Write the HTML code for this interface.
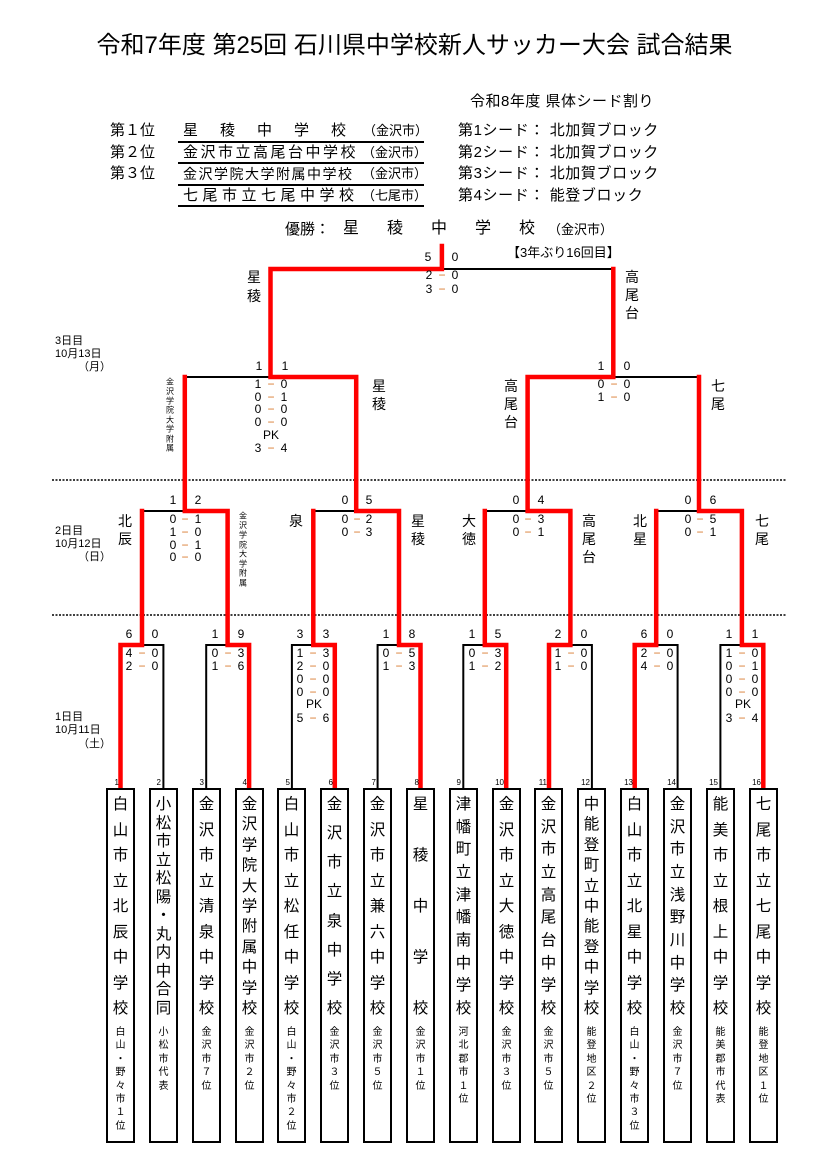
<!DOCTYPE html>
<html><head><meta charset="utf-8">
<style>
body{margin:0;background:#fff;}
#w{position:relative;width:829px;height:1170px;overflow:hidden;font-family:"Liberation Sans","Noto Sans CJK JP",sans-serif;color:#000;}
.a{position:absolute;white-space:nowrap;line-height:1;}
.box{position:absolute;top:788px;width:25px;height:351px;border:2px solid #000;background:#fff;}
.nm{position:absolute;left:0;right:0;top:6px;height:222px;display:flex;flex-direction:column;justify-content:space-between;align-items:center;font-size:15.5px;}
.nm span{display:block;height:18px;line-height:18px;text-align:center;}
.sb{position:absolute;left:0;right:0;top:236px;font-size:10px;line-height:13.4px;text-align:center;}
svg{position:absolute;left:0;top:0;}
</style></head><body><div id="w">

<div class="a" style="left:0;width:829px;text-align:center;top:34px;font-size:24px;">令和7年度 第25回 石川県中学校新人サッカー大会 試合結果</div>
<div class="a" style="left:470px;top:94px;font-size:15px;letter-spacing:0.5px;">令和8年度 県体シード割り</div>

<div class="a" style="left:110px;top:123px;font-size:15px;">第１位</div>
<div class="a" style="left:110px;top:145px;font-size:15px;">第２位</div>
<div class="a" style="left:110px;top:166px;font-size:15px;">第３位</div>
<div class="a" style="left:183px;top:123px;font-size:15px;letter-spacing:22px;">星稜中学校</div>
<div class="a" style="left:363px;top:124px;font-size:13px;">（金沢市）</div>
<div class="a" style="left:183px;top:145px;font-size:15px;letter-spacing:2.5px;">金沢市立高尾台中学校</div>
<div class="a" style="left:362px;top:146px;font-size:13px;">（金沢市）</div>
<div class="a" style="left:183px;top:167px;font-size:14px;letter-spacing:1.5px;">金沢学院大学附属中学校</div>
<div class="a" style="left:362px;top:167px;font-size:13px;">（金沢市）</div>
<div class="a" style="left:183px;top:188px;font-size:15px;letter-spacing:4.5px;">七尾市立七尾中学校</div>
<div class="a" style="left:362px;top:189px;font-size:13px;">（七尾市）</div>

<div class="a" style="left:458px;top:123px;font-size:15px;letter-spacing:0.6px;">第1シード： 北加賀ブロック</div>
<div class="a" style="left:458px;top:145px;font-size:15px;letter-spacing:0.6px;">第2シード： 北加賀ブロック</div>
<div class="a" style="left:458px;top:166px;font-size:15px;letter-spacing:0.6px;">第3シード： 北加賀ブロック</div>
<div class="a" style="left:458px;top:188px;font-size:15px;letter-spacing:0.6px;">第4シード： 能登ブロック</div>

<div class="a" style="left:285px;top:222px;font-size:15px;">優勝：</div>
<div class="a" style="left:343px;top:221px;font-size:16px;letter-spacing:28px;">星稜中学校</div>
<div class="a" style="left:548px;top:223px;font-size:13px;">（金沢市）</div>
<div class="a" style="left:507px;top:246px;font-size:13px;">【3年ぶり16回目】</div>

<svg width="829" height="1170" xmlns="http://www.w3.org/2000/svg" font-family="Liberation Sans, Noto Sans CJK JP, sans-serif">
<g stroke="#000" stroke-width="2">
<line x1="178" y1="142" x2="424" y2="142"/><line x1="178" y1="163" x2="424" y2="163"/>
<line x1="178" y1="185" x2="424" y2="185"/><line x1="178" y1="206" x2="424" y2="206"/>
</g>
<g stroke="#000" stroke-width="1.5" stroke-dasharray="2 1.5">
<line x1="52" y1="480" x2="787" y2="480"/><line x1="52" y1="615" x2="787" y2="615"/>
</g>
<g stroke="#000" stroke-width="2" fill="none">
<path d="M120.5 788V645H163.4V788"/><path d="M206.2 788V645H249.1V788"/>
<path d="M291.9 788V645H334.8V788"/><path d="M377.6 788V645H420.5V788"/>
<path d="M463.3 788V645H506.2V788"/><path d="M549 788V645H591.9V788"/>
<path d="M634.7 788V645H677.6V788"/><path d="M720.4 788V645H763.3V788"/>
<path d="M142 511H227.6"/><path d="M313.3 511H399"/><path d="M484.8 511H570.4"/><path d="M656.2 511H741.9"/>
<path d="M184.8 377H356.2"/><path d="M527.6 377H699"/>
<path d="M270.5 269H613.3"/>
</g>
<g stroke="#f00" stroke-width="4.5" fill="none" stroke-linejoin="miter" stroke-linecap="square">
<path d="M120.5 788V645H142V511"/>
<path d="M249.1 788V645H227.6V511H184.8V377"/>
<path d="M334.8 788V645H313.3V511"/>
<path d="M420.5 788V645H399V511H356.2V377H270.5V269H441.9V246"/>
<path d="M506.2 788V645H484.8V511"/>
<path d="M549 788V645H570.4V511H527.6V377H613.3V269"/>
<path d="M634.7 788V645H656.2V511"/>
<path d="M763.3 788V645H741.9V511H699V377"/>
</g>

<g font-size="12" text-anchor="middle" dominant-baseline="central">
<text y="257"><tspan x="428">5</tspan><tspan x="455">0</tspan></text>
<text y="275"><tspan x="429">2</tspan><tspan x="442" fill="#d9782a">−</tspan><tspan x="455">0</tspan></text>
<text y="289"><tspan x="429">3</tspan><tspan x="442" fill="#d9782a">−</tspan><tspan x="455">0</tspan></text>
<text y="366"><tspan x="259">1</tspan><tspan x="285">1</tspan></text>
<text y="384"><tspan x="258">1</tspan><tspan x="271" fill="#d9782a">−</tspan><tspan x="284">0</tspan></text>
<text y="397"><tspan x="258">0</tspan><tspan x="271" fill="#d9782a">−</tspan><tspan x="284">1</tspan></text>
<text y="409"><tspan x="258">0</tspan><tspan x="271" fill="#d9782a">−</tspan><tspan x="284">0</tspan></text>
<text y="422"><tspan x="258">0</tspan><tspan x="271" fill="#d9782a">−</tspan><tspan x="284">0</tspan></text>
<text y="435" x="271">PK</text>
<text y="448"><tspan x="258">3</tspan><tspan x="271" fill="#d9782a">−</tspan><tspan x="284">4</tspan></text>
<text y="366"><tspan x="601">1</tspan><tspan x="627">0</tspan></text>
<text y="384"><tspan x="601">0</tspan><tspan x="614" fill="#d9782a">−</tspan><tspan x="627">0</tspan></text>
<text y="397"><tspan x="601">1</tspan><tspan x="614" fill="#d9782a">−</tspan><tspan x="627">0</tspan></text>
<text y="500"><tspan x="173">1</tspan><tspan x="198">2</tspan></text>
<text y="519"><tspan x="173">0</tspan><tspan x="185" fill="#d9782a">−</tspan><tspan x="198">1</tspan></text>
<text y="532"><tspan x="173">1</tspan><tspan x="185" fill="#d9782a">−</tspan><tspan x="198">0</tspan></text>
<text y="545"><tspan x="173">0</tspan><tspan x="185" fill="#d9782a">−</tspan><tspan x="198">1</tspan></text>
<text y="557"><tspan x="173">0</tspan><tspan x="185" fill="#d9782a">−</tspan><tspan x="198">0</tspan></text>
<text y="500"><tspan x="345">0</tspan><tspan x="369">5</tspan></text>
<text y="519"><tspan x="345">0</tspan><tspan x="357" fill="#d9782a">−</tspan><tspan x="369">2</tspan></text>
<text y="532"><tspan x="345">0</tspan><tspan x="357" fill="#d9782a">−</tspan><tspan x="369">3</tspan></text>
<text y="500"><tspan x="516">0</tspan><tspan x="541">4</tspan></text>
<text y="519"><tspan x="516">0</tspan><tspan x="528" fill="#d9782a">−</tspan><tspan x="541">3</tspan></text>
<text y="532"><tspan x="516">0</tspan><tspan x="528" fill="#d9782a">−</tspan><tspan x="541">1</tspan></text>
<text y="500"><tspan x="688">0</tspan><tspan x="713">6</tspan></text>
<text y="519"><tspan x="688">0</tspan><tspan x="700" fill="#d9782a">−</tspan><tspan x="713">5</tspan></text>
<text y="532"><tspan x="688">0</tspan><tspan x="700" fill="#d9782a">−</tspan><tspan x="713">1</tspan></text>
<text y="634"><tspan x="129">6</tspan><tspan x="155">0</tspan></text>
<text y="653"><tspan x="129">4</tspan><tspan x="142" fill="#d9782a">−</tspan><tspan x="155">0</tspan></text>
<text y="666"><tspan x="129">2</tspan><tspan x="142" fill="#d9782a">−</tspan><tspan x="155">0</tspan></text>
<text y="634"><tspan x="215">1</tspan><tspan x="241">9</tspan></text>
<text y="653"><tspan x="215">0</tspan><tspan x="228" fill="#d9782a">−</tspan><tspan x="241">3</tspan></text>
<text y="666"><tspan x="215">1</tspan><tspan x="228" fill="#d9782a">−</tspan><tspan x="241">6</tspan></text>
<text y="634"><tspan x="300">3</tspan><tspan x="326">3</tspan></text>
<text y="653"><tspan x="300">1</tspan><tspan x="313" fill="#d9782a">−</tspan><tspan x="326">3</tspan></text>
<text y="666"><tspan x="300">2</tspan><tspan x="313" fill="#d9782a">−</tspan><tspan x="326">0</tspan></text>
<text y="679"><tspan x="300">0</tspan><tspan x="313" fill="#d9782a">−</tspan><tspan x="326">0</tspan></text>
<text y="692"><tspan x="300">0</tspan><tspan x="313" fill="#d9782a">−</tspan><tspan x="326">0</tspan></text>
<text y="704" x="314">PK</text>
<text y="718"><tspan x="300">5</tspan><tspan x="313" fill="#d9782a">−</tspan><tspan x="326">6</tspan></text>
<text y="634"><tspan x="386">1</tspan><tspan x="412">8</tspan></text>
<text y="653"><tspan x="386">0</tspan><tspan x="399" fill="#d9782a">−</tspan><tspan x="412">5</tspan></text>
<text y="666"><tspan x="386">1</tspan><tspan x="399" fill="#d9782a">−</tspan><tspan x="412">3</tspan></text>
<text y="634"><tspan x="472">1</tspan><tspan x="498">5</tspan></text>
<text y="653"><tspan x="472">0</tspan><tspan x="485" fill="#d9782a">−</tspan><tspan x="498">3</tspan></text>
<text y="666"><tspan x="472">1</tspan><tspan x="485" fill="#d9782a">−</tspan><tspan x="498">2</tspan></text>
<text y="634"><tspan x="558">2</tspan><tspan x="584">0</tspan></text>
<text y="653"><tspan x="558">1</tspan><tspan x="571" fill="#d9782a">−</tspan><tspan x="584">0</tspan></text>
<text y="666"><tspan x="558">1</tspan><tspan x="571" fill="#d9782a">−</tspan><tspan x="584">0</tspan></text>
<text y="634"><tspan x="644">6</tspan><tspan x="670">0</tspan></text>
<text y="653"><tspan x="644">2</tspan><tspan x="657" fill="#d9782a">−</tspan><tspan x="670">0</tspan></text>
<text y="666"><tspan x="644">4</tspan><tspan x="657" fill="#d9782a">−</tspan><tspan x="670">0</tspan></text>
<text y="634"><tspan x="729">1</tspan><tspan x="755">1</tspan></text>
<text y="653"><tspan x="729">1</tspan><tspan x="742" fill="#d9782a">−</tspan><tspan x="755">0</tspan></text>
<text y="666"><tspan x="729">0</tspan><tspan x="742" fill="#d9782a">−</tspan><tspan x="755">1</tspan></text>
<text y="679"><tspan x="729">0</tspan><tspan x="742" fill="#d9782a">−</tspan><tspan x="755">0</tspan></text>
<text y="692"><tspan x="729">0</tspan><tspan x="742" fill="#d9782a">−</tspan><tspan x="755">0</tspan></text>
<text y="704" x="743">PK</text>
<text y="718"><tspan x="729">3</tspan><tspan x="742" fill="#d9782a">−</tspan><tspan x="755">4</tspan></text>
</g>

<g font-size="11" dominant-baseline="central">
<text x="55" y="341">3日目</text><text x="55" y="354">10月13日</text><text x="78" y="367">（月）</text>
<text x="55" y="531">2日目</text><text x="55" y="544">10月12日</text><text x="78" y="557">（日）</text>
<text x="55" y="717">1日目</text><text x="55" y="730">10月11日</text><text x="78" y="744">（土）</text>
</g>

<g font-size="14" text-anchor="middle" dominant-baseline="central">
<text x="254" y="277">星</text><text x="254" y="296">稜</text>
<text x="632" y="277">高</text><text x="632" y="295">尾</text><text x="632" y="313">台</text>
<text x="379" y="386">星</text><text x="379" y="404">稜</text>
<text x="511" y="386">高</text><text x="511" y="404">尾</text><text x="511" y="422">台</text>
<text x="718" y="386">七</text><text x="718" y="404">尾</text>
<text x="125" y="521">北</text><text x="125" y="539">辰</text>
<text x="296" y="521">泉</text>
<text x="418" y="521">星</text><text x="418" y="539">稜</text>
<text x="469" y="521">大</text><text x="469" y="539">徳</text>
<text x="589" y="521">高</text><text x="589" y="539">尾</text><text x="589" y="557">台</text>
<text x="640" y="521">北</text><text x="640" y="539">星</text>
<text x="762" y="521">七</text><text x="762" y="539">尾</text>
</g>
<g font-size="8" text-anchor="middle" dominant-baseline="central">
<text x="170" y="382">金</text><text x="170" y="391.5">沢</text><text x="170" y="401">学</text><text x="170" y="410">院</text><text x="170" y="420">大</text><text x="170" y="429">学</text><text x="170" y="439">附</text><text x="170" y="448">属</text>
<text x="243" y="516">金</text><text x="243" y="525.6">沢</text><text x="243" y="535">学</text><text x="243" y="545">院</text><text x="243" y="554">大</text><text x="243" y="564">学</text><text x="243" y="573">附</text><text x="243" y="583">属</text>
</g>

<g font-size="8" text-anchor="end">
<text x="119" y="785">1</text><text x="161" y="785">2</text><text x="204" y="785">3</text><text x="247" y="785">4</text>
<text x="290" y="785">5</text><text x="333" y="785">6</text><text x="376" y="785">7</text><text x="419" y="785">8</text>
<text x="461" y="785">9</text><text x="504" y="785">10</text><text x="547" y="785">11</text><text x="590" y="785">12</text>
<text x="633" y="785">13</text><text x="676" y="785">14</text><text x="718" y="785">15</text><text x="761" y="785">16</text>
</g>
</svg>

<div class="box" style="left:106px"><div class="nm"><span>白</span><span>山</span><span>市</span><span>立</span><span>北</span><span>辰</span><span>中</span><span>学</span><span>校</span></div><div class="sb">白<br>山<br>・<br>野<br>々<br>市<br>１<br>位</div></div>
<div class="box" style="left:149px"><div class="nm"><span>小</span><span>松</span><span>市</span><span>立</span><span>松</span><span>陽</span><span>・</span><span>丸</span><span>内</span><span>中</span><span>合</span><span>同</span></div><div class="sb">小<br>松<br>市<br>代<br>表</div></div>
<div class="box" style="left:192px"><div class="nm"><span>金</span><span>沢</span><span>市</span><span>立</span><span>清</span><span>泉</span><span>中</span><span>学</span><span>校</span></div><div class="sb">金<br>沢<br>市<br>７<br>位</div></div>
<div class="box" style="left:235px"><div class="nm"><span>金</span><span>沢</span><span>学</span><span>院</span><span>大</span><span>学</span><span>附</span><span>属</span><span>中</span><span>学</span><span>校</span></div><div class="sb">金<br>沢<br>市<br>２<br>位</div></div>
<div class="box" style="left:277px"><div class="nm"><span>白</span><span>山</span><span>市</span><span>立</span><span>松</span><span>任</span><span>中</span><span>学</span><span>校</span></div><div class="sb">白<br>山<br>・<br>野<br>々<br>市<br>２<br>位</div></div>
<div class="box" style="left:320px"><div class="nm"><span>金</span><span>沢</span><span>市</span><span>立</span><span>泉</span><span>中</span><span>学</span><span>校</span></div><div class="sb">金<br>沢<br>市<br>３<br>位</div></div>
<div class="box" style="left:363px"><div class="nm"><span>金</span><span>沢</span><span>市</span><span>立</span><span>兼</span><span>六</span><span>中</span><span>学</span><span>校</span></div><div class="sb">金<br>沢<br>市<br>５<br>位</div></div>
<div class="box" style="left:406px"><div class="nm"><span>星</span><span>稜</span><span>中</span><span>学</span><span>校</span></div><div class="sb">金<br>沢<br>市<br>１<br>位</div></div>
<div class="box" style="left:449px"><div class="nm"><span>津</span><span>幡</span><span>町</span><span>立</span><span>津</span><span>幡</span><span>南</span><span>中</span><span>学</span><span>校</span></div><div class="sb">河<br>北<br>郡<br>市<br>１<br>位</div></div>
<div class="box" style="left:492px"><div class="nm"><span>金</span><span>沢</span><span>市</span><span>立</span><span>大</span><span>徳</span><span>中</span><span>学</span><span>校</span></div><div class="sb">金<br>沢<br>市<br>３<br>位</div></div>
<div class="box" style="left:534px"><div class="nm"><span>金</span><span>沢</span><span>市</span><span>立</span><span>高</span><span>尾</span><span>台</span><span>中</span><span>学</span><span>校</span></div><div class="sb">金<br>沢<br>市<br>５<br>位</div></div>
<div class="box" style="left:577px"><div class="nm"><span>中</span><span>能</span><span>登</span><span>町</span><span>立</span><span>中</span><span>能</span><span>登</span><span>中</span><span>学</span><span>校</span></div><div class="sb">能<br>登<br>地<br>区<br>２<br>位</div></div>
<div class="box" style="left:620px"><div class="nm"><span>白</span><span>山</span><span>市</span><span>立</span><span>北</span><span>星</span><span>中</span><span>学</span><span>校</span></div><div class="sb">白<br>山<br>・<br>野<br>々<br>市<br>３<br>位</div></div>
<div class="box" style="left:663px"><div class="nm"><span>金</span><span>沢</span><span>市</span><span>立</span><span>浅</span><span>野</span><span>川</span><span>中</span><span>学</span><span>校</span></div><div class="sb">金<br>沢<br>市<br>７<br>位</div></div>
<div class="box" style="left:706px"><div class="nm"><span>能</span><span>美</span><span>市</span><span>立</span><span>根</span><span>上</span><span>中</span><span>学</span><span>校</span></div><div class="sb">能<br>美<br>郡<br>市<br>代<br>表</div></div>
<div class="box" style="left:749px"><div class="nm"><span>七</span><span>尾</span><span>市</span><span>立</span><span>七</span><span>尾</span><span>中</span><span>学</span><span>校</span></div><div class="sb">能<br>登<br>地<br>区<br>１<br>位</div></div>

</div></body></html>
